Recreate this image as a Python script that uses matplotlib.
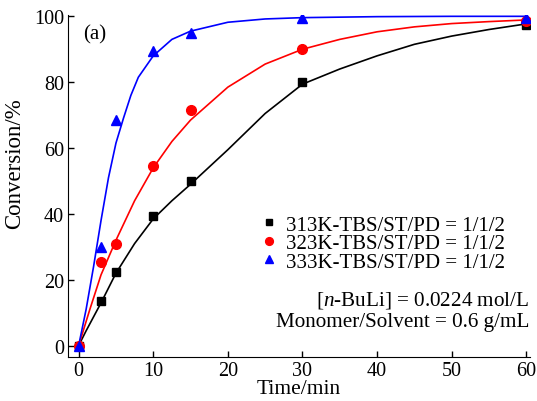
import matplotlib
matplotlib.use("Agg")
import matplotlib.pyplot as plt

plt.rcParams['font.family'] = ['Liberation Serif', 'DejaVu Serif']
plt.rcParams['mathtext.fontset'] = 'custom'
plt.rcParams['mathtext.it'] = 'Liberation Serif:italic'
plt.rcParams['mathtext.rm'] = 'Liberation Serif'

# measured points
t_pts = [0, 3, 5, 10, 15, 30, 60]
conv_313 = [0, 13.5, 22.5, 39.5, 50, 80, 97.5]
conv_323 = [0, 25.5, 31, 54.5, 71.5, 90, 98.5]
conv_333 = [0, 30, 68.5, 89.5, 95, 99.5, 99.5]

# fitted curves
t_fit_313 = [0, 1, 3, 5, 7.5, 10, 12.5, 15, 20, 25, 30, 35, 40, 45, 50, 55, 60]
fit_313 = [0, 4.5, 13, 22, 31, 38.5, 44, 49, 59.5, 70.5, 79.4, 84, 88, 91.5, 94, 96, 97.7]
t_fit_323 = [0, 1.5, 3, 5, 7.5, 10, 12.5, 15, 20, 25, 30, 35, 40, 45, 50, 55, 60]
fit_323 = [0, 11, 21.5, 32, 44, 54, 62, 68.5, 78.5, 85.5, 90, 93, 95.3, 96.8, 97.8, 98.4, 98.9]
t_fit_333 = [0, 1, 2, 3, 4, 5, 6, 7, 8, 10, 12.5, 15, 20, 25, 30, 40, 50, 60]
fit_333 = [0, 11, 24, 38, 51, 61.5, 69, 76, 81.5, 88, 93, 95.5, 98.2, 99.2, 99.6, 99.9, 100, 100]

labels = ['313K-TBS/ST/PD = 1/1/2', '323K-TBS/ST/PD = 1/1/2', '333K-TBS/ST/PD = 1/1/2']

fig = plt.figure(figsize=(5.37, 4.02), dpi=100)
ax = fig.add_axes([0.127, 0.109, 0.860, 0.852])

ax.plot(t_fit_313, fit_313, color='black', lw=1.2)
ax.plot(t_fit_323, fit_323, color='red', lw=1.2)
ax.plot(t_fit_333, fit_333, color='blue', lw=1.2)
h1, = ax.plot(t_pts, conv_313, 's', color='black', ms=6, ls='none', label=labels[0])
h2, = ax.plot(t_pts, conv_323, 'o', color='red', ms=7, ls='none', label=labels[1])
h3, = ax.plot(t_pts, conv_333, '^', color='blue', ms=7.5, ls='none', label=labels[2])

ax.set_xlim(-1.4, 60.5)
ax.set_ylim(-3.5, 100.5)
ax.set_xticks([0, 10, 20, 30, 40, 50, 60])
ax.set_yticks([0, 20, 40, 60, 80, 100])
ax.spines['top'].set_visible(False)
ax.spines['right'].set_visible(False)
ax.tick_params(direction='in', length=4, width=1, labelsize=14.5, pad=3)
ax.set_xlabel('Time/min', fontsize=15.5, labelpad=-1)
ax.set_ylabel('Conversion/%', fontsize=16.5)
ax.yaxis.set_label_coords(-0.093, 0.567)

ax.legend(handles=[h1, h2, h3], loc='center left', bbox_to_anchor=(0.466, 0.392),
          bbox_transform=fig.transFigure, frameon=False, fontsize=15,
          handlelength=0.8, handletextpad=0.4, labelspacing=-0.05, borderpad=0,
          markerscale=0.8)

ax.text(0.985, 0.253, '[$\\it{n}$-BuLi] = 0.0224 mol/L', transform=fig.transFigure,
        ha='right', va='center', fontsize=15.2)
ax.text(0.985, 0.197, 'Monomer/Solvent = 0.6 g/mL', transform=fig.transFigure,
        ha='right', va='center', fontsize=15.2)
ax.text(0.176, 0.913, '(a)', transform=fig.transFigure, ha='center', va='center', fontsize=15)

fig.savefig('out.png', dpi=100)
